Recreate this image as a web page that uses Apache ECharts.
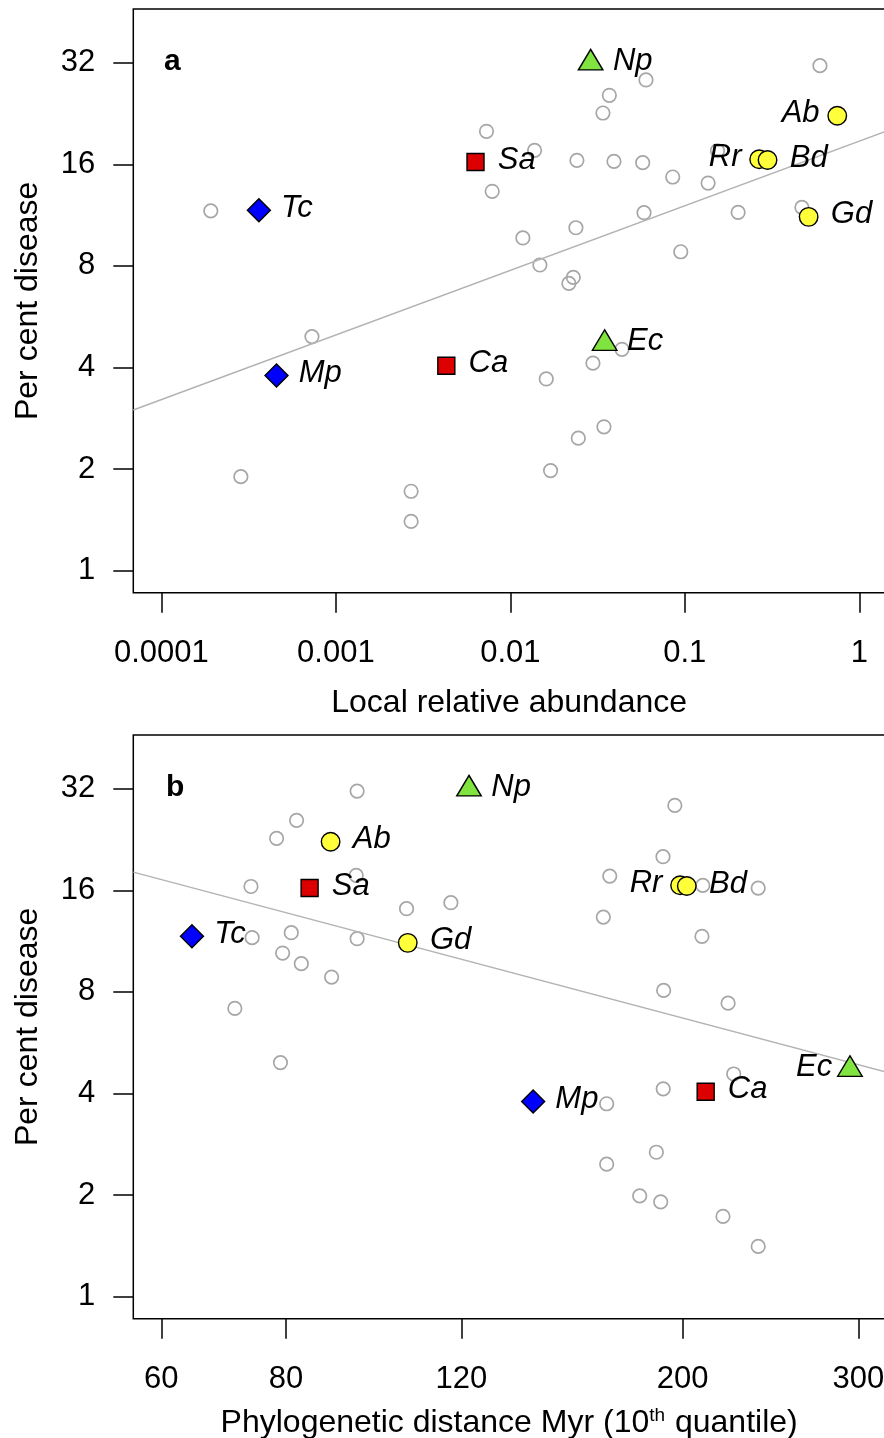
<!DOCTYPE html>
<html><head><meta charset="utf-8">
<script src="https://cdn.jsdelivr.net/npm/echarts@6/dist/echarts.min.js"></script>
<style>html,body{margin:0;padding:0;background:#fff}#c{width:884px;height:1438px}</style>
</head><body><div id="c"></div>
<script>
// ---------------- data ----------------
const focalSpecies   = ['Np', 'Ec', 'Sa', 'Ca', 'Tc', 'Mp', 'Ab', 'Rr', 'Bd', 'Gd'];
const focalDisease   = [31.9, 4.71, 16.25, 4.05, 11.7, 3.79, 22.29, 16.56, 16.48, 11.18];
const focalAbundance = [0.02886, 0.03472, 0.006317, 0.004298, 0.0003623, 0.0004571, 0.7478, 0.2668, 0.2980, 0.5125];
const focalPhylo     = [122.1, 294.3, 84.5, 210.9, 64.4, 141.6, 88.7, 198.8, 201.9, 106.0];

const otherAbundance = [0.595, 0.05991, 0.03694, 0.03395, 0.007302, 0.01377, 0.02408, 0.03926, 0.05738, 0.1539,
  0.08525, 0.1360, 0.007872, 0.4690, 0.05837, 0.2021, 0.02376, 0.01180, 0.09480, 0.01477,
  0.02296, 0.02166, 0.000192, 0.0007296, 0.0002855, 0.0027, 0.0027, 0.04364, 0.02975, 0.01607,
  0.0344, 0.02453, 0.01701];
const otherDiseaseA = [31.35, 28.44, 25.62, 22.70, 20.04, 17.60, 16.44, 16.33, 16.18, 17.55,
  14.67, 14.08, 13.31, 11.93, 11.50, 11.53, 10.38, 9.68, 8.81, 8.05,
  7.40, 7.10, 11.64, 4.94, 1.90, 1.72, 1.40, 4.53, 4.12, 3.70,
  2.67, 2.47, 1.98];

const otherPhylo = [94.3, 82.0, 78.3, 94.1, 73.8, 105.7, 117.1, 74.0, 81.0, 94.3,
  79.4, 82.9, 88.9, 71.1, 196.4, 191.1, 169.0, 209.5, 238.1, 166.5,
  209.1, 191.4, 222.1, 79.0, 225.0, 191.2, 167.8, 188.2, 167.8, 181.1,
  190.1, 219.5, 238.1];
const otherDiseaseB = [31.48, 25.78, 22.80, 17.71, 16.42, 14.11, 14.70, 11.58, 11.98, 11.50,
  10.43, 9.70, 8.85, 7.15, 28.55, 20.12, 17.63, 16.54, 16.24, 13.33,
  11.68, 8.08, 7.41, 4.94, 4.57, 4.13, 3.73, 2.68, 2.47, 1.99,
  1.91, 1.73, 1.41];

// fitted regression lines (end points at the plot edges)
const fitAx = [6.906e-5, 1.404], fitAy = [2.994, 19.99];
const fitBx = [56.24, 319.1],    fitBy = [18.11, 4.64];

const yTicks = [1, 2, 4, 8, 16, 32];
const yTickLabels = ['1', '2', '4', '8', '16', '32'];
const xTicksA = [0.0001, 0.001, 0.01, 0.1, 1];
const xTickLabelsA = ['0.0001', '0.001', '0.01', '0.1', '1'];
const xTicksB = [60, 80, 120, 200, 300];
const xTickLabelsB = ['60', '80', '120', '200', '300'];

// ---------------- style ----------------
const FONT = '"Liberation Sans", Arial, Helvetica, sans-serif';
const FS = 31;
const FS_NAME = 32;
const shapeOf = { Np: 'triangle', Ec: 'triangle', Sa: 'rect', Ca: 'rect', Tc: 'diamond', Mp: 'diamond',
                  Ab: 'circle', Rr: 'circle', Bd: 'circle', Gd: 'circle' };
const shapeStyle = {
  triangle: { color: '#80e33f', size: [24.5, 20.5], offset: [0, -3.5], half: 12.2, lab: [0, 3.5] },
  rect:     { color: '#dd0000', size: 17, offset: [0, 0], half: 8.5, lab: [0, 0] },
  diamond:  { color: '#0000ff', size: 23, offset: [0, 0], half: 11.5, lab: [0, 0] },
  circle:   { color: '#ffff3a', size: 18.5, offset: [0, 0], half: 9.25, lab: [0, 0] }
};
const leftLabels = [{ Ab: 1, Rr: 1 }, { Rr: 1, Ec: 1 }];

function fmt(ticks, labels) {
  return function (v) {
    for (let i = 0; i < ticks.length; i++) if (Math.abs(Math.log(v / ticks[i])) < 1e-6) return labels[i];
    return '';
  };
}

function yAxis(gi) {
  return {
    type: 'log', logBase: 2, gridIndex: gi, min: 0.861, max: 46.15,
    axisLine: { show: false }, splitLine: { show: false },
    axisTick: { show: true, length: 20, customValues: yTicks, lineStyle: { color: '#000', width: 1.5 } },
    axisLabel: { customValues: yTicks, formatter: fmt(yTicks, yTickLabels), fontSize: FS, fontFamily: FONT, color: '#000',
                 margin: 38, padding: [4, 0, 0, 0] },
    name: 'Per cent disease', nameLocation: 'middle', nameGap: 89,
    nameTextStyle: { fontSize: FS_NAME, fontFamily: FONT, color: '#000' }
  };
}

function xAxis(gi, ticks, labels, min, max, logBase, name, gap, rich) {
  return {
    type: 'log', logBase: logBase, gridIndex: gi, min: min, max: max,
    axisLine: { show: false }, splitLine: { show: false },
    axisTick: { show: true, length: 20, customValues: ticks, lineStyle: { color: '#000', width: 1.5 } },
    axisLabel: { customValues: ticks, formatter: fmt(ticks, labels), fontSize: FS, fontFamily: FONT, color: '#000', margin: 45 },
    name: name, nameLocation: 'middle', nameGap: gap,
    nameTextStyle: { fontSize: FS_NAME, fontFamily: FONT, color: '#000', rich: rich || {} }
  };
}

function panelSeries(gi, xs, ys, ox, oy, fx, fy) {
  const out = [];
  out.push({
    type: 'scatter', xAxisIndex: gi, yAxisIndex: gi, symbol: 'circle', symbolSize: 13.5, silent: true,
    itemStyle: { color: 'rgba(0,0,0,0)', borderColor: '#a6a6a6', borderWidth: 1.7, opacity: 1 },
    data: ox.map((v, i) => [v, oy[i]])
  });
  out.push({
    type: 'line', xAxisIndex: gi, yAxisIndex: gi, symbol: 'none', silent: true,
    lineStyle: { color: '#b3b3b3', width: 1.5 },
    data: fx.map((v, i) => [v, fy[i]])
  });
  ['circle', 'diamond', 'rect', 'triangle'].forEach(shape => {
    const st = shapeStyle[shape];
    const data = [];
    focalSpecies.forEach((sp, i) => {
      if (shapeOf[sp] !== shape) return;
      const left = !!leftLabels[gi][sp];
      data.push({
        value: [xs[i], ys[i]], name: sp,
        label: {
          position: left ? 'left' : 'right',
          distance: left ? 17 - st.half : 21.5 - st.half
        }
      });
    });
    out.push({
      type: 'scatter', xAxisIndex: gi, yAxisIndex: gi, symbol: shape, symbolSize: st.size,
      symbolOffset: st.offset, silent: true, z: 5,
      itemStyle: { color: st.color, borderColor: '#000', borderWidth: 1.4, opacity: 1 },
      label: { show: true, formatter: '{b}', fontSize: FS, fontStyle: 'italic', fontFamily: FONT, color: '#000',
               offset: [st.lab[0], st.lab[1] - 2] },
      data: data
    });
  });
  return out;
}

const chart = echarts.init(document.getElementById('c'), null, { renderer: 'canvas' });
chart.setOption({
  animation: false,
  backgroundColor: '#fff',
  grid: [
    { left: 133.3, top: 9, width: 751.7, height: 583.7, show: true, borderColor: '#000', borderWidth: 1.5, outerBoundsMode: 'none', containLabel: false },
    { left: 133.3, top: 735, width: 751.7, height: 583.7, show: true, borderColor: '#000', borderWidth: 1.5, outerBoundsMode: 'none', containLabel: false }
  ],
  xAxis: [
    xAxis(0, xTicksA, xTickLabelsA, 6.906e-5, 1.404, 10, 'Local relative abundance', 94),
    xAxis(1, xTicksB, xTickLabelsB, 56.24, 319.1, 10, 'Phylogenetic distance Myr (10{sup|th} quantile)', 88,
          { sup: { fontSize: 19, fontFamily: FONT, color: '#000', verticalAlign: 'top', lineHeight: 19, padding: [0, 1, 0, 0] } })
  ],
  yAxis: [yAxis(0), yAxis(1)],
  graphic: [
    { type: 'text', left: 164, top: 47, style: { text: 'a', font: 'bold 30px ' + FONT, fill: '#000' } },
    { type: 'text', left: 166, top: 773, style: { text: 'b', font: 'bold 30px ' + FONT, fill: '#000' } }
  ],
  series: [].concat(
    panelSeries(0, focalAbundance, focalDisease, otherAbundance, otherDiseaseA, fitAx, fitAy),
    panelSeries(1, focalPhylo, focalDisease, otherPhylo, otherDiseaseB, fitBx, fitBy)
  )
});
</script></body></html>
